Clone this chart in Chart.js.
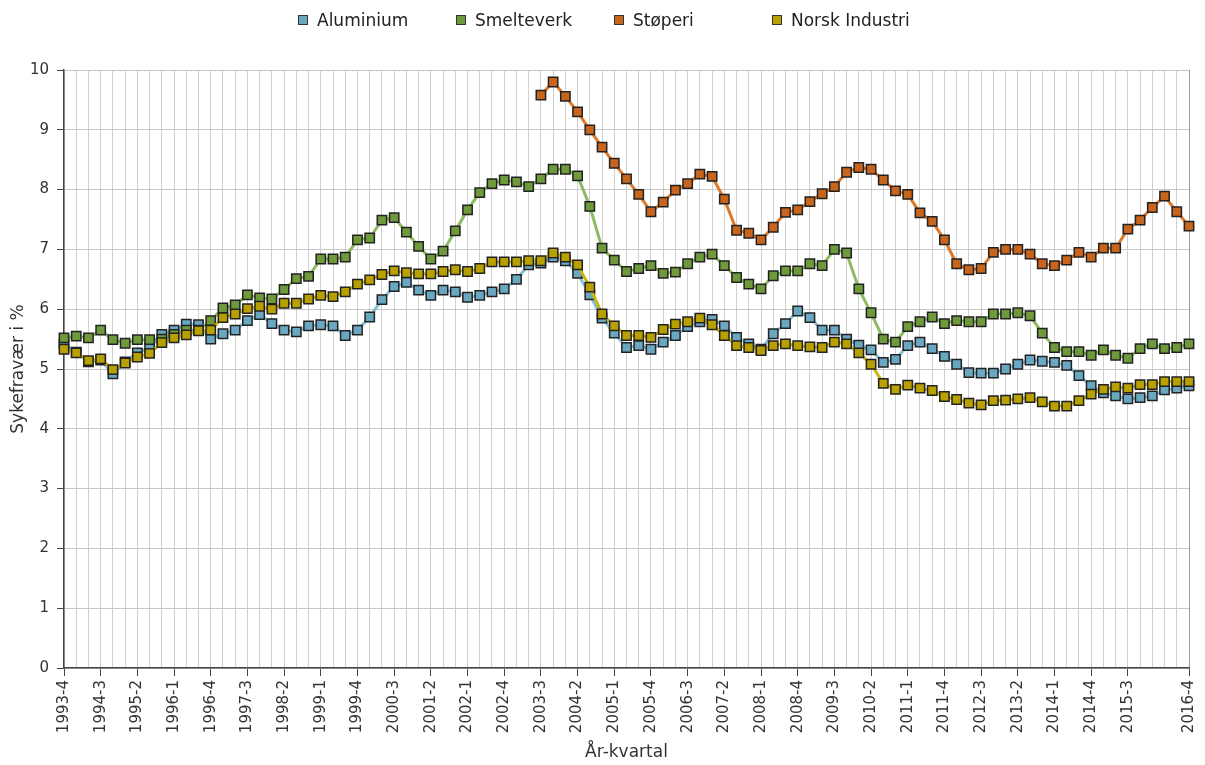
<!DOCTYPE html>
<html>
<head>
<meta charset="utf-8">
<script src="https://cdn.jsdelivr.net/npm/chart.js@4.4.1/dist/chart.umd.min.js"></script>
<style>
html,body{margin:0;padding:0;background:#fff;}
#wrap{position:relative;width:1205px;height:765px;}
#legend{position:absolute;left:298px;top:8px;height:24px;display:flex;font-family:"DejaVu Sans",Verdana,sans-serif;font-size:17px;color:#222;white-space:nowrap;}
.item{width:158px;display:flex;align-items:center;}
.box{width:8px;height:8px;border:1.5px solid #333;margin-right:9px;flex:none;}
canvas{position:absolute;left:0;top:0;}
</style>
</head>
<body>
<div id="wrap">
<canvas id="c" width="1205" height="765"></canvas>
<div id="legend"></div>
</div>
<script>
// ---- Data ----
const quarters = [
"1993-4",
"1994-1","1994-2","1994-3","1994-4","1995-1","1995-2","1995-3","1995-4",
"1996-1","1996-2","1996-3","1996-4","1997-1","1997-2","1997-3","1997-4",
"1998-1","1998-2","1998-3","1998-4","1999-1","1999-2","1999-3","1999-4",
"2000-1","2000-2","2000-3","2000-4","2001-1","2001-2","2001-3","2001-4",
"2002-1","2002-2","2002-3","2002-4","2003-1","2003-2","2003-3","2003-4",
"2004-1","2004-2","2004-3","2004-4","2005-1","2005-2","2005-3","2005-4",
"2006-1","2006-2","2006-3","2006-4","2007-1","2007-2","2007-3","2007-4",
"2008-1","2008-2","2008-3","2008-4","2009-1","2009-2","2009-3","2009-4",
"2010-1","2010-2","2010-3","2010-4","2011-1","2011-2","2011-3","2011-4",
"2012-1","2012-2","2012-3","2012-4","2013-1","2013-2","2013-3","2013-4",
"2014-1","2014-2","2014-3","2014-4","2015-1","2015-2","2015-3","2015-4",
"2016-1","2016-2","2016-3","2016-4"
];

const aluminium = [
5.42,5.28,5.12,5.15,4.92,5.12,5.27,5.36,5.58,5.65,
5.75,5.74,5.50,5.59,5.65,5.81,5.91,5.76,5.65,5.62,
5.72,5.74,5.72,5.56,5.65,5.87,6.16,6.38,6.45,6.32,
6.23,6.32,6.29,6.20,6.23,6.29,6.34,6.50,6.74,6.77,
6.87,6.81,6.60,6.24,5.85,5.60,5.36,5.39,5.33,5.45,
5.56,5.71,5.79,5.83,5.72,5.53,5.42,5.33,5.59,5.76,
5.97,5.86,5.65,5.65,5.50,5.40,5.32,5.11,5.16,5.39,
5.45,5.34,5.21,5.08,4.94,4.93,4.93,5.00,5.08,5.15,
5.13,5.11,5.06,4.89,4.72,4.60,4.55,4.50,4.52,4.55,
4.65,4.68,4.72
];

const smelteverk = [
5.52,5.55,5.52,5.65,5.49,5.43,5.49,5.49,5.50,5.58,
5.65,5.65,5.81,6.02,6.07,6.24,6.19,6.17,6.33,6.51,
6.55,6.84,6.84,6.87,7.16,7.19,7.49,7.53,7.29,7.05,
6.84,6.97,7.31,7.66,7.95,8.10,8.16,8.13,8.05,8.18,
8.34,8.34,8.23,7.72,7.02,6.82,6.63,6.68,6.73,6.60,
6.62,6.76,6.87,6.92,6.73,6.53,6.42,6.34,6.56,6.64,
6.64,6.76,6.73,7.00,6.94,6.34,5.94,5.50,5.45,5.71,
5.79,5.87,5.76,5.81,5.79,5.79,5.92,5.92,5.94,5.89,
5.60,5.36,5.29,5.29,5.23,5.32,5.23,5.18,5.34,5.42,
5.34,5.36,5.42
];

const stoperi = [
null,null,null,null,null,null,null,null,null,null,
null,null,null,null,null,null,null,null,null,null,
null,null,null,null,null,null,null,null,null,null,
null,null,null,null,null,null,null,null,null,
9.58,9.80,9.56,9.30,9.00,8.71,8.44,8.18,7.92,7.63,
7.79,7.99,8.10,8.26,8.22,7.84,7.32,7.27,7.16,7.37,
7.62,7.66,7.80,7.93,8.05,8.29,8.37,8.34,8.16,7.98,
7.92,7.61,7.47,7.16,6.76,6.66,6.68,6.95,7.00,7.00,
6.92,6.76,6.73,6.82,6.95,6.87,7.02,7.02,7.34,7.49,
7.70,7.89,7.63,7.39
];

const norskIndustri = [
5.33,5.27,5.14,5.17,4.99,5.10,5.20,5.26,5.44,5.52,
5.57,5.64,5.65,5.86,5.92,6.01,6.05,6.00,6.10,6.10,
6.17,6.23,6.21,6.29,6.42,6.49,6.58,6.64,6.61,6.59,
6.59,6.63,6.66,6.63,6.68,6.79,6.79,6.79,6.81,6.81,
6.94,6.87,6.74,6.37,5.92,5.72,5.56,5.56,5.53,5.66,
5.75,5.79,5.85,5.74,5.56,5.39,5.36,5.31,5.39,5.42,
5.39,5.37,5.36,5.45,5.42,5.27,5.08,4.76,4.66,4.73,
4.68,4.64,4.54,4.49,4.43,4.40,4.47,4.48,4.50,4.52,
4.45,4.38,4.38,4.47,4.58,4.66,4.70,4.68,4.74,4.74,
4.79,4.79,4.79
];

const seriesNames = ["Aluminium","Smelteverk","Støperi","Norsk Industri"];
const yTicks = [0,1,2,3,4,5,6,7,8,9,10];

// ---- Styles ----
const FONT = '"DejaVu Sans", Verdana, sans-serif';
const styles = [
  {fill:'#6aa8c2', line:'#86bfd6', order:4},
  {fill:'#6e9a3c', line:'#8dbb62', order:3},
  {fill:'#c8641c', line:'#dc7a2c', order:2},
  {fill:'#b8a000', line:'#c9b412', order:1}
];
const values = [aluminium, smelteverk, stoperi, norskIndustri];

const datasets = seriesNames.map((name, k) => ({
  label: name,
  data: values[k],
  borderColor: styles[k].line,
  backgroundColor: styles[k].fill,
  borderWidth: 3,
  pointStyle: 'rect',
  pointRadius: 6.6,
  pointBackgroundColor: styles[k].fill,
  pointBorderColor: '#222',
  pointBorderWidth: 1.5,
  tension: 0,
  spanGaps: false,
  order: styles[k].order
}));

// HTML legend
const lg = document.getElementById('legend');
seriesNames.forEach((name,k)=>{
  const it = document.createElement('div'); it.className='item';
  const b = document.createElement('div'); b.className='box'; b.style.background = styles[k].fill;
  const t = document.createElement('span'); t.textContent = name;
  it.appendChild(b); it.appendChild(t); lg.appendChild(it);
});

const last = quarters.length - 1;
const shown = i => ((i % 3 === 0 && i < last - 2) || i === last);

new Chart(document.getElementById('c'), {
  type: 'line',
  data: { labels: quarters, datasets },
  options: {
    responsive: false,
    animation: false,
    layout: { padding: { left: 0, right: 16, top: 70, bottom: 0 } },
    plugins: { legend: { display: false }, tooltip: { enabled: false } },
    scales: {
      x: {
        type: 'category',
        offset: false,
        grid: {
          color: c => (c.index === last ? '#9a9a9a' : '#d0d0d0'),
          lineWidth: 1,
          tickLength: 8,
          tickColor: c => (shown(c.index) ? '#444' : 'rgba(0,0,0,0)')
        },
        border: { color: '#444', width: 1.5 },
        ticks: {
          autoSkip: false, minRotation: 90, maxRotation: 90, padding: 4,
          color: '#333', font: { family: FONT, size: 15 },
          callback: (v, i) => (shown(i) ? quarters[i] : '')
        },
        title: { display: true, text: 'År-kvartal', color: '#333',
                 font: { family: FONT, size: 17 }, padding: { top: 0, bottom: 2 } },
        afterFit: s => { s.height = 97; s.paddingLeft = 0; s.paddingRight = 0; }
      },
      y: {
        min: 0, max: 10,
        afterBuildTicks: s => { s.ticks = yTicks.map(v => ({ value: v })); },
        grid: { color: '#c8c8c8', lineWidth: 1, tickLength: 7, tickColor: '#444' },
        border: { color: '#444', width: 1.5 },
        ticks: { color: '#333', padding: 8, font: { family: FONT, size: 15 } },
        title: { display: true, text: 'Sykefravær i %', color: '#333',
                 font: { family: FONT, size: 17 }, padding: { top: 8, bottom: 0 } },
        afterFit: s => { s.width = 64; s.paddingTop = 0; s.paddingBottom = 0; }
      }
    }
  }
});
</script>
</body>
</html>
